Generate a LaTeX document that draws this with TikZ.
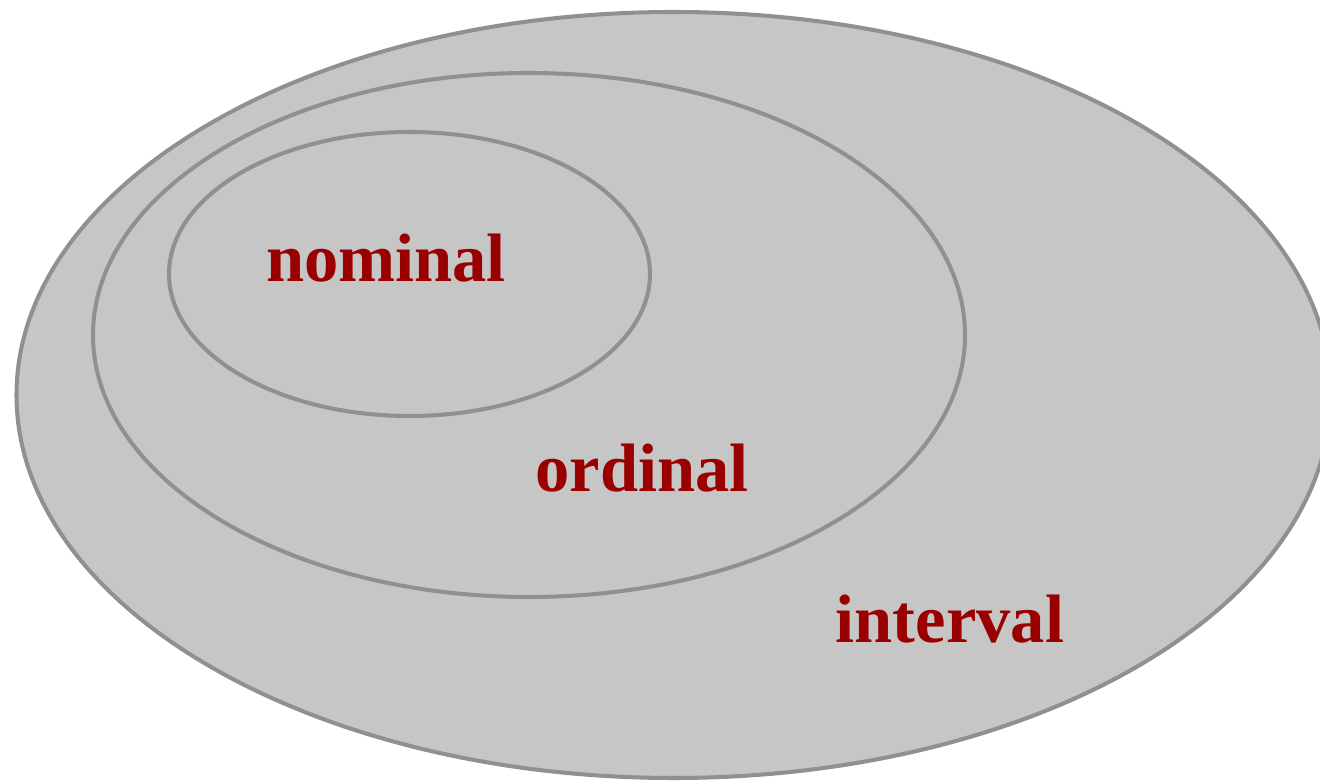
\documentclass[tikz,border=0pt]{standalone}
\usepackage{fontspec}
\setmainfont{Liberation Serif}
\usepackage{xcolor}
\usepackage{tikz}
\definecolor{setfill}{HTML}{C6C6C6}
\definecolor{setline}{HTML}{909090}
\definecolor{lvlred}{HTML}{9B0000}

\begin{document}
\begin{tikzpicture}[x=0.02cm, y=-0.02cm,
  set/.style={fill=setfill, draw=setline, line width=2.3pt},
  lvl/.style={font=\fontsize{39}{47}\selectfont\bfseries, text=lvlred, anchor=base, inner sep=0pt}
]
  \useasboundingbox (0,0) rectangle (1320,783);
  \clip (0,0) rectangle (1320,783);

  % nested scales of measurement
  \draw[set] (673.7,395) ellipse [x radius=657.2, y radius=383];
  \draw[set] (529,335) ellipse [x radius=436, y radius=262];
  \draw[set] (409.5,274) ellipse [x radius=240.5, y radius=142];

  \node[lvl] (nominal) at (386,282) {nominal};
  \node[lvl] (ordinal) at (642,492) {ordinal};
  \node[lvl] (interval) at (950,643) {interval};
\end{tikzpicture}
\end{document}
